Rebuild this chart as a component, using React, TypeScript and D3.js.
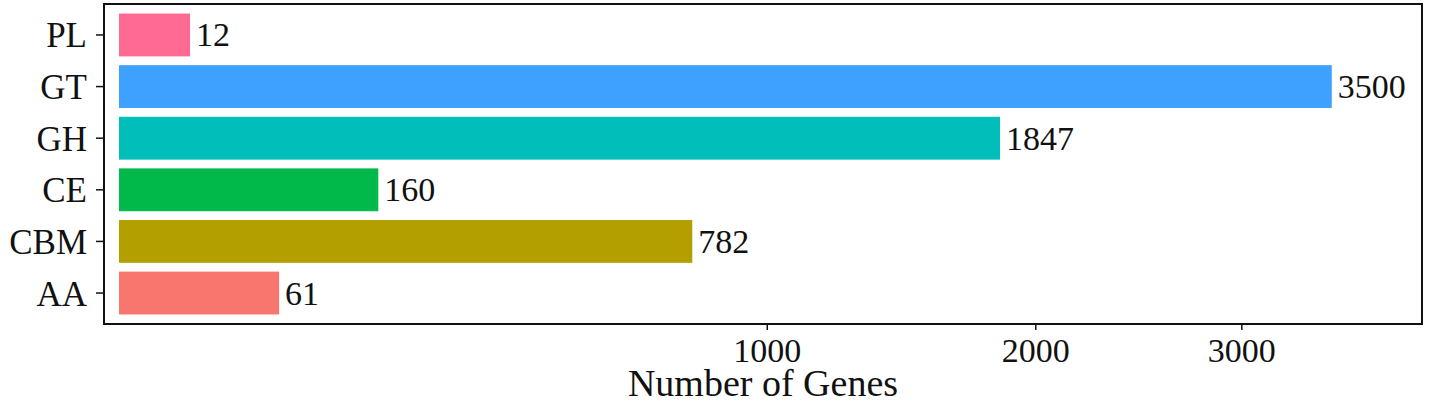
import React from "react";
import * as d3 from "d3";

const categories = ["PL", "GT", "GH", "CE", "CBM", "AA"];
const values = [12, 3500, 1847, 160, 782, 61];
const colors = ["#FF6A92", "#3FA1FF", "#00BFBA", "#00B94A", "#B3A000", "#F8766D"];
const tickValues = [1000, 2000, 3000];
const xTitle = "Number of Genes";

const W = 1429;
const H = 403;
const panel = { left: 104, right: 1422, top: 4, bottom: 324 };
const FONT = "'Liberation Serif', 'Times New Roman', serif";

export default function App() {
  const x = d3.scaleSqrt().domain([0, 4050]).range([119, 119 + 20.5 * Math.sqrt(4050)]);
  const y = d3
    .scaleBand<string>()
    .domain(categories)
    .range([panel.top, panel.bottom])
    .paddingInner(0.17)
    .paddingOuter(0.185);

  return (
    <svg
      width={W}
      height={H}
      style={{ position: "absolute", left: 0, top: 0, background: "#fff" }}
      fontFamily={FONT}
    >
      <rect x={0} y={0} width={W} height={H} fill="#fff" />
      {categories.map((c, i) => (
        <g key={c}>
          <rect
            x={x(0)}
            y={y(c)!}
            width={x(values[i]) - x(0)}
            height={y.bandwidth()}
            fill={colors[i]}
          />
          <text
            x={x(values[i]) + 6}
            y={y(c)! + y.bandwidth() / 2 + 11.5}
            fontSize={34}
            fill="#111"
          >
            {values[i]}
          </text>
          <line
            x1={panel.left - 8}
            x2={panel.left}
            y1={y(c)! + y.bandwidth() / 2}
            y2={y(c)! + y.bandwidth() / 2}
            stroke="#111"
            strokeWidth={1.5}
          />
          <text
            x={87}
            y={y(c)! + y.bandwidth() / 2 + 12.5}
            fontSize={35}
            textAnchor="end"
            fill="#111"
          >
            {c}
          </text>
        </g>
      ))}
      <rect
        x={panel.left}
        y={panel.top}
        width={panel.right - panel.left}
        height={panel.bottom - panel.top}
        fill="none"
        stroke="#111"
        strokeWidth={2}
      />
      {tickValues.map((t) => (
        <g key={t}>
          <line
            x1={x(t)}
            x2={x(t)}
            y1={panel.bottom}
            y2={panel.bottom + 6}
            stroke="#111"
            strokeWidth={1.5}
          />
          <text x={x(t)} y={362} fontSize={34} textAnchor="middle" fill="#111">
            {t}
          </text>
        </g>
      ))}
      <text
        x={(panel.left + panel.right) / 2}
        y={396}
        fontSize={38}
        textAnchor="middle"
        fill="#111"
      >
        {xTitle}
      </text>
    </svg>
  );
}
